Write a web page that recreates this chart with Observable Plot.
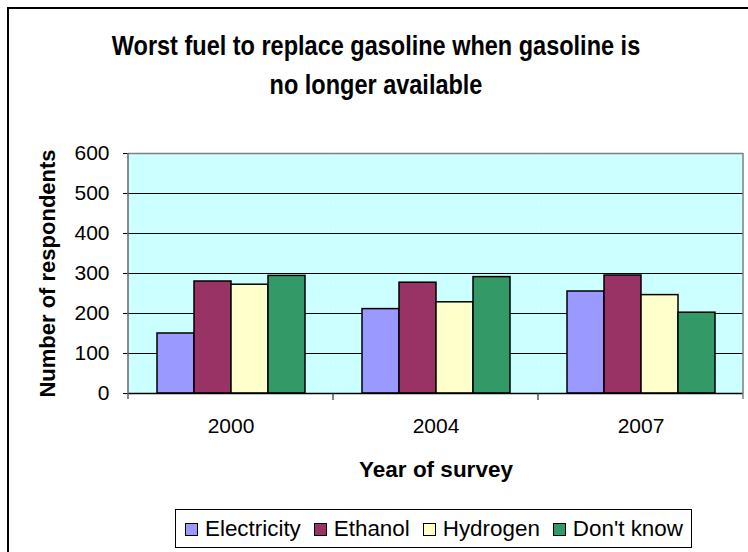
<!DOCTYPE html>
<html>
<head>
<meta charset="utf-8">
<script src="https://cdn.jsdelivr.net/npm/d3@7"></script>
<script src="https://cdn.jsdelivr.net/npm/@observablehq/plot@0.6"></script>
<style>
  html, body { margin: 0; padding: 0; background: #fff; overflow: hidden; }
  body { width: 748px; height: 552px; position: relative; font-family: "Liberation Sans", Arial, sans-serif; }
  #outer { position: absolute; left: 7px; top: 7px; width: 800px; height: 600px; border-left: 2.5px solid #000; border-top: 2.5px solid #000; }
  #chart { position: absolute; left: 0; top: 0; }
  #title { position: absolute; left: 7px; width: 738px; top: 26px; text-align: center;
           font-family: "Liberation Sans", Arial, sans-serif; font-weight: bold;
           font-size: 23.5px; line-height: 34px; color: #000;
           transform: scale(1, 1.15); transform-origin: 50% 0; }
  #legend { position: absolute; left: 175px; top: 509px; width: 517px; height: 39px; box-sizing: border-box;
            border: 1px solid #000; background: #fff; display: flex; align-items: center; padding-left: 9px;
            font-size: 22.4px; color: #000; white-space: nowrap; }
  .item { display: flex; align-items: center; margin-right: 13px; }
  .sw { width: 11px; height: 11px; border: 1px solid #000; margin-right: 7px; margin-top: 2px; }
</style>
</head>
<body>
<div id="outer"></div>
<div id="chart"></div>
<div id="title">Worst fuel to replace gasoline when gasoline is<br>no longer available</div>
<div id="legend"></div>
<script>
const years = ["2000", "2004", "2007"];
const fuels = ["Electricity", "Ethanol", "Hydrogen", "Don't know"];
const fuelColors = ["#9999ff", "#993366", "#ffffcc", "#339966"];
const electricity = [150, 211, 255];
const ethanol = [280, 277, 295];
const hydrogen = [272, 228, 246];
const dontKnow = [294, 291, 202];
const yTicks = [0, 100, 200, 300, 400, 500, 600];
const yGrid = [100, 200, 300, 400, 500];
const yLabel = "Number of respondents";
const xLabel = "Year of survey";

const series = [electricity, ethanol, hydrogen, dontKnow];
const data = [];
years.forEach((yr, i) => fuels.forEach((f, j) => data.push({year: yr, fuel: f, value: series[j][i]})));

const W = 748, H = 552, mL = 127, mR = 4, mT = 153, mB = 159;

const chart = Plot.plot({
  width: W, height: H,
  marginLeft: mL, marginRight: mR, marginTop: mT, marginBottom: mB,
  style: {fontFamily: "'Liberation Sans', Arial, sans-serif", fontSize: "21px", background: "transparent", overflow: "visible", color: "#000"},
  fx: {domain: years, padding: 0, label: null, tickSize: 0, tickPadding: 25},
  x: {domain: fuels, paddingInner: 0, paddingOuter: 0.76, axis: null},
  y: {domain: [0, 600], ticks: yTicks, tickSize: 5, tickPadding: 14, label: null, tickFormat: d => String(d)},
  color: {domain: fuels, range: fuelColors},
  marks: [
    Plot.frame({fill: "#ccffff"}),
    Plot.ruleY(yGrid, {stroke: "#000", strokeWidth: 1}),
    Plot.ruleY([600], {stroke: "#808080", strokeWidth: 1.5}),
    Plot.barY(data, {fx: "year", x: "fuel", y: "value", fill: "fuel", stroke: "#000", strokeWidth: 1.5}),
    Plot.ruleY([0], {stroke: "#000", strokeWidth: 1.5}),
    Plot.text([yLabel], {fx: () => years[0], frameAnchor: "left", textAnchor: "middle", lineAnchor: "middle", text: d => d, rotate: -90, dx: -81, fontWeight: "bold", fontSize: 22, fill: "#000"}),
    Plot.text([xLabel], {fx: () => years[1], frameAnchor: "bottom", textAnchor: "middle", lineAnchor: "middle", text: d => d, dy: 76, fontWeight: "bold", fontSize: 22.5, fill: "#000"})
  ]
});
document.getElementById("chart").appendChild(chart);

// axis line, right edge and category boundary ticks from the library's scales
const fxS = chart.scale("fx"), yS = chart.scale("y");
const bw = fxS.bandwidth;
const starts = years.map(v => fxS.apply(v));
const bounds = [...starts, starts[starts.length - 1] + bw];
const y0 = yS.apply(0), yTop = yS.apply(600);
const g = d3.select(chart).append("g");
g.append("line").attr("x1", bounds[0]).attr("x2", bounds[0]).attr("y1", yTop).attr("y2", y0 + 6)
  .attr("stroke", "#666").attr("stroke-width", 1.5);
g.append("line").attr("x1", bounds[bounds.length - 1]).attr("x2", bounds[bounds.length - 1]).attr("y1", yTop).attr("y2", y0 + 6)
  .attr("stroke", "#808080").attr("stroke-width", 1.5);
bounds.slice(1, -1).forEach(b => g.append("line").attr("x1", b).attr("x2", b).attr("y1", y0).attr("y2", y0 + 7)
  .attr("stroke", "#333").attr("stroke-width", 1.2));

// legend
const leg = d3.select("#legend");
fuels.forEach((f, i) => {
  const it = leg.append("div").attr("class", "item");
  it.append("div").attr("class", "sw").style("background", fuelColors[i]);
  it.append("span").text(f);
});
</script>
</body>
</html>
